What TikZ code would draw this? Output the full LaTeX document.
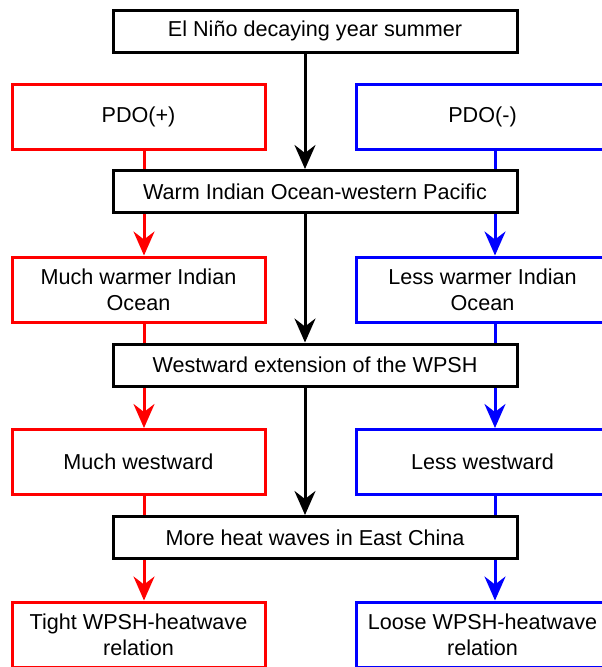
\documentclass[tikz,border=0pt]{standalone}
\usepackage{fontspec}
\setmainfont{Liberation Sans}
\usetikzlibrary{arrows.meta}
\begin{document}
\begin{tikzpicture}[x=1pt,y=-1pt,
  box/.style={draw, line width=3pt, fill=white, rectangle, inner sep=0pt,
    minimum width=#1, align=center,
    font=\fontsize{21.6pt}{26pt}\selectfont},
  mainbox/.style={box=404pt, draw=black, minimum height=42pt},
  redbox/.style={box=253pt, draw=red, minimum height=65pt},
  bluebox/.style={box=253pt, draw=blue, minimum height=65pt},
  conn/.style={line width=3pt, -{Stealth[length=24pt,width=21pt,inset=8pt]}},
  plainconn/.style={line width=3pt}]
\useasboundingbox (0,0) rectangle (602,667);
\clip (0,0) rectangle (602,667);
\fill[white] (0,0) rectangle (602,667);
\coordinate (xb) at (305,0);
\coordinate (xr) at (144,0);
\coordinate (xu) at (495,0);
% main column
\node[mainbox] (top) at (315,31) {El Niño decaying year summer};
\node[mainbox] (warm) at (315,191.5) {Warm Indian Ocean-western Pacific};
\node[mainbox] (west) at (315,365) {Westward extension of the WPSH};
\node[mainbox] (heat) at (315,537.5) {More heat waves in East China};
% left column
\node[redbox] (pdop) at (138.5,116.5) {PDO(+)};
\node[redbox] (mwarm) at (138.5,289.5) {Much warmer Indian\\Ocean};
\node[redbox] (mwest) at (138.5,462) {Much westward};
\node[redbox] (tight) at (138.5,634.5) {Tight WPSH-heatwave\\relation};
% right column
\node[bluebox] (pdom) at (482.5,116.5) {PDO(-)};
\node[bluebox] (lwarm) at (482.5,289.5) {Less warmer Indian\\Ocean};
\node[bluebox] (lwest) at (482.5,462) {Less westward};
\node[bluebox] (loose) at (482.5,634.5) {Loose WPSH-heatwave\\relation};
% black connectors
\draw[conn, black] (top.south -| xb) -- (warm.north -| xb);
\draw[conn, black] (warm.south -| xb) -- (west.north -| xb);
\draw[conn, black] (west.south -| xb) -- (heat.north -| xb);
% red connectors
\draw[plainconn, red] (pdop.south -| xr) -- (warm.north -| xr);
\draw[conn, red] (warm.south -| xr) -- (mwarm.north -| xr);
\draw[plainconn, red] (mwarm.south -| xr) -- (west.north -| xr);
\draw[conn, red] (west.south -| xr) -- (mwest.north -| xr);
\draw[plainconn, red] (mwest.south -| xr) -- (heat.north -| xr);
\draw[conn, red] (heat.south -| xr) -- (tight.north -| xr);
% blue connectors
\draw[plainconn, blue] (pdom.south -| xu) -- (warm.north -| xu);
\draw[conn, blue] (warm.south -| xu) -- (lwarm.north -| xu);
\draw[plainconn, blue] (lwarm.south -| xu) -- (west.north -| xu);
\draw[conn, blue] (west.south -| xu) -- (lwest.north -| xu);
\draw[plainconn, blue] (lwest.south -| xu) -- (heat.north -| xu);
\draw[conn, blue] (heat.south -| xu) -- (loose.north -| xu);
\end{tikzpicture}
\end{document}
